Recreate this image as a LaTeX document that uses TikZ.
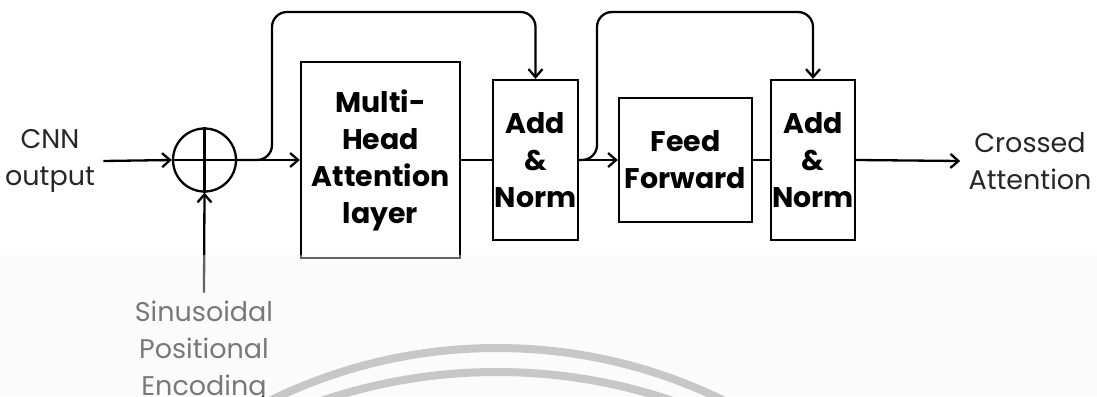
\documentclass[tikz,border=0pt]{standalone}
\usepackage{fontspec}
\setmainfont{Poppins}
\usetikzlibrary{arrows.meta,positioning}

\begin{document}
\begin{tikzpicture}[x=0.5pt,y=-0.5pt,
every node/.style={align=center},
block/.style={draw,line width=1.15pt,inner sep=0pt,
  font=\bfseries\fontsize{14.2}{18.5}\selectfont},
lbl/.style={inner sep=4pt,text=black!85,font=\fontsize{13.5}{18.5}\selectfont},
flow/.style={line width=1.15pt,-{Straight Barb[length=4pt,width=7pt]}},
link/.style={line width=1.15pt},
skip/.style={flow,rounded corners=7.5pt}]
\useasboundingbox (0,0) rectangle (1097,396);
\node[lbl] (cnn) at (50,161) {CNN\\output};
\node[draw,circle,line width=1.15pt,minimum size=31.5pt,inner sep=0pt] (sum) at (204.5,160) {};
\draw[link] (sum.north)--(sum.south) (sum.west)--(sum.east);
\node[block,minimum width=79.5pt,minimum height=98pt] (mha) at (380.5,160) {Multi-\\Head\\Attention\\layer};
\node[block,minimum width=42.5pt,minimum height=80pt] (an1) at (535.5,160) {Add\\\&\\Norm};
\node[block,minimum width=66.5pt,minimum height=62pt] (ff) at (685.5,160) {Feed\\Forward};
\node[block,minimum width=42pt,minimum height=80pt] (an2) at (813,160) {Add\\\&\\Norm};
\node[lbl] (out) at (1030,161) {Crossed\\Attention};
\node[lbl] (pe) at (204,352) {Sinusoidal\\Positional\\Encoding};
\coordinate (s1) at (272,12);
\coordinate (s2) at (597,12);
% main path
\draw[flow] (cnn.east)--(sum.west);
\draw[flow] (sum.east)--(mha.west);
\draw[link] (mha.east)--(an1.west);
\draw[flow] (an1.east)--(ff.west);
\draw[link] (ff.east)--(an2.west);
\draw[flow] (an2.east)--(out.west);
\draw[flow] (pe.north)--(sum.south);
% residual connections
\draw[skip] (sum.east) -| (s1) -| (an1.north);
\draw[skip] (an1.east) -| (s2) -| (an2.north);
% faded lower band and logo arcs
\fill[black!4,opacity=0.4] (0,255) rectangle (1097,396);
\begin{scope}
\clip (0,0) rectangle (1097,396);
\draw[black!22,line width=4pt] (497,862) circle[radius=257pt];
\draw[black!22,line width=4pt] (497,917) circle[radius=272.5pt];
\end{scope}
\end{tikzpicture}
\end{document}
